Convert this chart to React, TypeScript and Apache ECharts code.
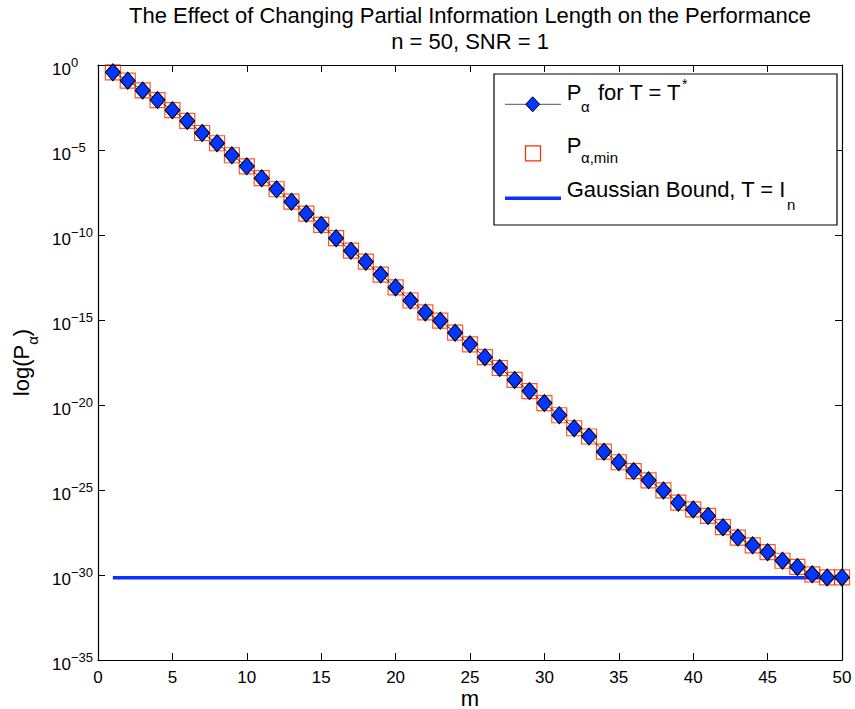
import React, { useEffect, useRef } from "react";
import * as echarts from "echarts";

// m = partial information length
const mValues = [
  1, 2, 3, 4, 5, 6, 7, 8, 9, 10, 11, 12, 13, 14, 15, 16, 17, 18, 19, 20, 21, 22, 23, 24, 25,
  26, 27, 28, 29, 30, 31, 32, 33, 34, 35, 36, 37, 38, 39, 40, 41, 42, 43, 44, 45, 46, 47, 48, 49, 50,
];

// P_alpha for T = T*
const pAlpha = [
  3.7e-1, 1.2e-1, 3.2e-2, 8.7e-3, 2.2e-3, 5.1e-4, 1.0e-4, 2.5e-5, 4.9e-6, 1.1e-6,
  2.2e-7, 4.9e-8, 9.1e-9, 1.8e-9, 3.9e-10, 6.5e-11, 1.2e-11, 2.7e-12, 4.7e-13, 8.3e-14,
  1.4e-14, 2.8e-15, 9.1e-16, 1.8e-16, 3.7e-17, 6.5e-18, 1.5e-18, 3.0e-19, 6.6e-20, 1.3e-20,
  2.5e-21, 4.3e-22, 1.4e-22, 1.8e-23, 4.3e-24, 1.3e-24, 3.7e-25, 9.5e-26, 1.8e-26, 7.2e-27,
  3.0e-27, 6.5e-28, 1.6e-28, 5.6e-29, 2.2e-29, 6.9e-30, 3.0e-30, 1.1e-30, 7.2e-31, 7.2e-31,
];

// P_alpha,min
const pAlphaMin = [
  3.7e-1, 1.2e-1, 3.2e-2, 8.7e-3, 2.2e-3, 5.1e-4, 1.0e-4, 2.5e-5, 4.9e-6, 1.1e-6,
  2.2e-7, 4.9e-8, 9.1e-9, 1.8e-9, 3.9e-10, 6.5e-11, 1.2e-11, 2.7e-12, 4.7e-13, 8.3e-14,
  1.4e-14, 2.8e-15, 9.1e-16, 1.8e-16, 3.7e-17, 6.5e-18, 1.5e-18, 3.0e-19, 6.6e-20, 1.3e-20,
  2.5e-21, 4.3e-22, 1.4e-22, 1.8e-23, 4.3e-24, 1.3e-24, 3.7e-25, 9.5e-26, 1.8e-26, 7.2e-27,
  3.0e-27, 6.5e-28, 1.6e-28, 5.6e-29, 2.2e-29, 6.9e-30, 3.0e-30, 1.1e-30, 7.2e-31, 7.2e-31,
];

// Gaussian bound, T = I_n
const gaussM = [1, 50];
const gaussBound = [6.9e-31, 6.9e-31];

// axes (y axis is in decades: 10^-35 .. 10^0)
const xTicks = { min: 0, max: 50, interval: 5 };
const yDecades = { min: -35, max: 0, interval: 5 };

const FONT = "Liberation Sans";
const BLUE = "#0a30ff";
const RED = "#ff2a00";
const DIAMOND = "#0536ff";

export default function App() {
  const ref = useRef<HTMLDivElement>(null);

  useEffect(() => {
    if (!ref.current) return;
    const chart = echarts.init(ref.current, null, { renderer: "svg" });

    const yLabel = (v: number) => {
      const e = Math.round(v);
      const es = e < 0 ? "\u2212" + String(-e) : String(e);
      return "{b|10}{e|" + es + "}";
    };

    const txt = (text: string, x: number, y: number, size: number) => ({
      type: "text",
      x,
      y,
      z: 101,
      silent: true,
      style: {
        text,
        fill: "#000",
        fontFamily: FONT,
        fontSize: size,
        align: "left",
        verticalAlign: "middle",
        textAlign: "left",
        textVerticalAlign: "middle",
      },
    });

    // legend box (drawn as graphics so that the sub/superscripts sit like the original)
    const legendGraphic = [
      {
        type: "rect",
        z: 100,
        silent: true,
        shape: { x: 494, y: 74, width: 343, height: 151 },
        style: { fill: "#fff", stroke: "#000", lineWidth: 1.2 },
      },
      {
        type: "line",
        z: 101,
        silent: true,
        shape: { x1: 505, y1: 104.3, x2: 561, y2: 104.3 },
        style: { stroke: "#555", lineWidth: 1 },
      },
      {
        type: "polygon",
        z: 102,
        silent: true,
        shape: {
          points: [
            [532.7, 96.8],
            [539.7, 104.3],
            [532.7, 111.8],
            [525.7, 104.3],
          ],
        },
        style: { fill: DIAMOND, stroke: "#000", lineWidth: 1 },
      },
      txt("P", 566.7, 92.5, 22),
      txt("α", 581, 106, 15),
      txt("for T = T", 598, 92.5, 22),
      txt("*", 682, 84, 14),
      {
        type: "rect",
        z: 101,
        silent: true,
        shape: { x: 525.5, y: 145.8, width: 15, height: 15 },
        style: { fill: "none", stroke: RED, lineWidth: 1.2 },
      },
      txt("P", 566.7, 145, 22),
      txt("α,min", 581, 157.5, 15),
      {
        type: "line",
        z: 101,
        silent: true,
        shape: { x1: 505, y1: 198.3, x2: 561, y2: 198.3 },
        style: { stroke: BLUE, lineWidth: 3.5 },
      },
      txt("Gaussian Bound, T = I", 566.7, 189, 22),
      txt("n", 787, 204, 15),
    ];

    const option: any = {
      animation: false,
      backgroundColor: "#fff",
      textStyle: { fontFamily: FONT },
      title: {
        text: "The Effect of Changing Partial Information Length on the Performance\nn = 50, SNR = 1",
        left: 470,
        textAlign: "center",
        top: 2,
        padding: 0,
        textStyle: {
          fontFamily: FONT,
          fontSize: 22,
          fontWeight: "normal",
          color: "#000",
          lineHeight: 26,
        },
      },
      grid: {
        left: 98,
        right: 13,
        top: 65,
        bottom: 49,
        outerBoundsMode: "none",
        containLabel: false,
      },
      graphic: legendGraphic,
      xAxis: [
        {
          type: "value",
          position: "bottom",
          min: xTicks.min,
          max: xTicks.max,
          interval: xTicks.interval,
          name: "m",
          nameLocation: "middle",
          nameGap: 30,
          nameMoveOverlap: false,
          nameTextStyle: { fontFamily: FONT, fontSize: 22, color: "#000", lineHeight: 16 },
          axisLine: { show: true, onZero: false, lineStyle: { color: "#000", width: 1.2 } },
          axisTick: { show: true, inside: true, length: 7, lineStyle: { color: "#000", width: 1 } },
          axisLabel: { fontFamily: FONT, fontSize: 17, color: "#000", margin: 10, lineHeight: 14 },
          splitLine: { show: false },
        },
        {
          type: "value",
          position: "top",
          min: xTicks.min,
          max: xTicks.max,
          interval: xTicks.interval,
          axisLine: { show: true, onZero: false, lineStyle: { color: "#000", width: 1.2 } },
          axisTick: { show: true, inside: true, length: 7, lineStyle: { color: "#000", width: 1 } },
          axisLabel: { show: false },
          splitLine: { show: false },
        },
      ],
      yAxis: [
        {
          type: "value",
          position: "left",
          min: yDecades.min,
          max: yDecades.max,
          interval: yDecades.interval,
          name: "{b|log(P}{s|α}{b|)}",
          nameLocation: "middle",
          nameRotate: 90,
          nameGap: 58,
          nameMoveOverlap: false,
          nameTextStyle: {
            fontFamily: FONT,
            fontSize: 22,
            color: "#000",
            rich: {
              b: { fontFamily: FONT, fontSize: 22, color: "#000", lineHeight: 30, verticalAlign: "top" },
              s: { fontFamily: FONT, fontSize: 15, color: "#000", verticalAlign: "bottom" },
            },
          },
          axisLine: { show: true, onZero: false, lineStyle: { color: "#000", width: 1.2 } },
          axisTick: { show: true, inside: true, length: 7, lineStyle: { color: "#000", width: 1 } },
          axisLabel: {
            formatter: yLabel,
            align: "left",
            margin: 46,
            padding: [4, 0, 0, 0],
            rich: {
              b: { fontFamily: FONT, fontSize: 17, color: "#000", lineHeight: 22, verticalAlign: "bottom" },
              e: { fontFamily: FONT, fontSize: 13, color: "#000", verticalAlign: "top" },
            },
          },
          splitLine: { show: false },
        },
        {
          type: "value",
          position: "right",
          min: yDecades.min,
          max: yDecades.max,
          interval: yDecades.interval,
          axisLine: { show: true, onZero: false, lineStyle: { color: "#000", width: 1.2 } },
          axisTick: { show: true, inside: true, length: 7, lineStyle: { color: "#000", width: 1 } },
          axisLabel: { show: false },
          splitLine: { show: false },
        },
      ],
      series: [
        {
          name: "P_alpha,min",
          type: "scatter",
          xAxisIndex: 0,
          yAxisIndex: 0,
          symbol: "rect",
          symbolSize: 15,
          z: 2,
          itemStyle: { color: "rgba(255,255,255,0)", borderColor: RED, borderWidth: 1.2 },
          data: mValues.map((m, i) => [m, Math.log10(pAlphaMin[i])]),
        },
        {
          name: "P_alpha for T = T*",
          type: "line",
          xAxisIndex: 0,
          yAxisIndex: 0,
          symbol: "diamond",
          symbolSize: [15, 17],
          showAllSymbol: true,
          z: 3,
          lineStyle: { color: "#222", width: 0.8 },
          itemStyle: { color: DIAMOND, borderColor: "#000", borderWidth: 1 },
          data: mValues.map((m, i) => [m, Math.log10(pAlpha[i])]),
        },
        {
          name: "Gaussian Bound, T = I_n",
          type: "line",
          xAxisIndex: 0,
          yAxisIndex: 0,
          symbol: "none",
          z: 1,
          lineStyle: { color: BLUE, width: 3.5 },
          itemStyle: { color: BLUE },
          data: gaussM.map((m, i) => [m, Math.log10(gaussBound[i])]),
        },
      ],
    };

    chart.setOption(option);
    return () => chart.dispose();
  }, []);

  return <div ref={ref} style={{ width: 855, height: 709, position: "absolute", left: 0, top: 0 }} />;
}
